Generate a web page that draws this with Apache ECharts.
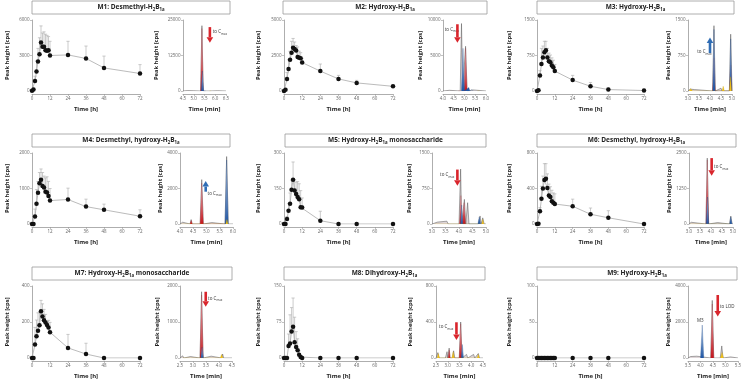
<!DOCTYPE html>
<html>
<head>
<meta charset="utf-8">
<script src="https://cdn.jsdelivr.net/npm/echarts@6/dist/echarts.min.js"></script>
<style>
  html, body { margin: 0; padding: 0; background: #fff; }
  #main { width: 741px; height: 381px; }
</style>
</head>
<body>
<div id="main"></div>
<script>
// sampling times [h]
var hours = [0, 1, 2, 3, 4, 5, 6, 7, 8, 9, 10, 11, 12, 24, 36, 48, 72];

// mean peak heights [cps] and upper SD per metabolite
var m1Mean = [20, 120, 850, 1650, 2500, 3100, 4100, 3750, 3750, 3450, 3400, 3450, 3000, 3050, 2750, 1950, 1480];
var m1Sd   = [0, 40, 400, 900, 1100, 1400, 1400, 1150, 1250, 1350, 1300, 1150, 1200, 1150, 1050, 1000, 750];
var m2Mean = [0, 90, 850, 1550, 2200, 2700, 3050, 2950, 2850, 2400, 2350, 2300, 2000, 1400, 850, 570, 330];
var m2Sd   = [0, 30, 450, 650, 600, 800, 650, 500, 350, 700, 450, 400, 300, 500, 250, 180, 0];
var m3Mean = [0, 15, 330, 570, 710, 820, 860, 710, 630, 610, 540, 500, 420, 230, 100, 30, 10];
var m3Sd   = [0, 10, 100, 330, 240, 230, 190, 190, 170, 150, 160, 150, 140, 100, 80, 30, 0];
var m4Mean = [0, 0, 210, 570, 880, 1150, 1250, 1070, 1030, 910, 890, 790, 660, 690, 490, 400, 220];
var m4Sd   = [0, 0, 210, 400, 320, 300, 300, 380, 320, 390, 440, 410, 340, 320, 210, 160, 180];
var m5Mean = [0, 0, 21, 56, 86, 145, 187, 142, 127, 114, 105, 71, 70, 14, 0, 0, 0];
var m5Sd   = [0, 0, 10, 30, 45, 40, 75, 45, 50, 65, 65, 70, 40, 40, 0, 0, 0];
var m6Mean = [0, 3, 145, 285, 400, 495, 510, 405, 320, 305, 255, 240, 225, 200, 110, 70, 0];
var m6Sd   = [0, 3, 40, 140, 140, 185, 170, 160, 130, 115, 125, 110, 115, 80, 70, 80, 0];
var m7Mean = [0, 0, 75, 121, 151, 182, 260, 231, 210, 197, 184, 169, 143, 56, 22, 0, 0];
var m7Sd   = [0, 0, 95, 90, 100, 70, 60, 70, 60, 45, 20, 40, 55, 75, 60, 0, 0];
var m8Mean = [0, 0, 0, 25, 30, 55, 65, 33, 23, 16, 7, 2, 0, 0, 0, 0, 0];
var m8Sd   = [0, 0, 0, 25, 60, 50, 60, 52, 32, 24, 8, 3, 0, 0, 0, 0, 0];
var m9Mean = [0, 0, 0, 0, 0, 0, 0, 0, 0, 0, 0, 0, 0, 0, 0, 0, 0];
var m9Sd   = [0, 0, 0, 0, 0, 0, 0, 0, 0, 0, 0, 0, 0, 0, 0, 0, 0];

// chromatogram traces [min, cps]
var m1Gray   = [[4.5,0],[4.7,150],[4.75,0],[5.0,100],[5.05,0],[5.32,0],[5.38,23000],[5.44,0],[5.75,0],[5.78,400],[5.82,0],[6.1,100],[6.15,0],[6.5,0]];
var m1Red    = [[5.32,0],[5.38,22000],[5.44,0]];
var m1Blue   = [[5.35,0],[5.4,7000],[5.46,0],[5.5,300],[5.55,0]];
var m1Yellow = [[5.73,0],[5.77,500],[5.81,0]];
var m2Gray   = [[4.0,0],[4.3,100],[4.35,0],[4.8,0],[4.86,9500],[4.92,0],[4.98,0],[5.05,6300],[5.12,0],[5.4,150],[5.45,0],[6.0,0]];
var m2Red    = [[4.7,0],[4.74,250],[4.78,0],[4.98,0],[5.05,6000],[5.12,0]];
var m2Blue   = [[4.86,0],[4.93,6000],[5.0,0],[5.2,500],[5.25,0],[5.35,200],[5.4,0]];
var m2Yellow = [[5.6,0],[5.65,100],[5.7,0]];
var m3Gray   = [[3.0,0],[3.1,40],[3.15,0],[3.3,30],[3.35,0],[3.6,20],[3.65,0],[4.12,0],[4.18,1380],[4.24,0],[4.5,60],[4.55,0],[4.88,0],[4.94,1200],[5.0,0]];
var m3Red    = [[4.12,0],[4.18,700],[4.24,0],[4.88,0],[4.94,550],[5.0,0]];
var m3Blue   = [[4.13,0],[4.18,1300],[4.23,0],[4.89,0],[4.94,1100],[4.99,0]];
var m3Yellow = [[3.05,0],[3.12,50],[3.2,0],[3.25,40],[3.3,0],[4.55,0],[4.6,100],[4.65,0],[4.88,0],[4.93,300],[4.98,0]];
var m4Gray   = [[4.0,0],[4.1,100],[4.15,0],[4.38,0],[4.42,250],[4.46,0],[4.76,0],[4.82,2500],[4.88,0],[5.2,80],[5.25,0],[5.7,0],[5.76,3800],[5.82,0],[6.0,0]];
var m4Red    = [[4.38,0],[4.42,200],[4.46,0],[4.76,0],[4.82,2300],[4.88,0],[5.72,0],[5.76,500],[5.8,0]];
var m4Blue   = [[5.7,0],[5.76,3600],[5.82,0]];
var m4Yellow = [[4.05,0],[4.1,80],[4.15,0],[5.73,0],[5.77,250],[5.81,0]];
var m5Gray   = [[3.0,0],[3.2,40],[3.25,0],[3.55,60],[3.6,0],[4.0,0],[4.06,1160],[4.1,0],[4.14,0],[4.2,520],[4.25,0],[4.28,0],[4.32,450],[4.37,0],[4.72,0],[4.78,170],[4.82,0],[4.84,0],[4.88,130],[4.93,0],[5.0,0]];
var m5Red    = [[4.02,0],[4.07,600],[4.12,0],[4.15,0],[4.19,450],[4.24,0]];
var m5Blue   = [[4.06,0],[4.1,400],[4.14,0],[4.7,0],[4.75,150],[4.8,0]];
var m5Yellow = [[3.1,0],[3.15,40],[3.2,0],[4.85,0],[4.88,100],[4.92,0]];
var m6Gray   = [[3.0,0],[3.1,60],[3.15,0],[3.77,0],[3.83,2320],[3.89,0],[4.3,50],[4.35,0],[4.84,0],[4.9,280],[4.96,0],[5.0,0]];
var m6Red    = [[3.77,0],[3.83,2250],[3.89,0]];
var m6Blue   = [[3.78,0],[3.84,950],[3.9,0],[4.85,0],[4.9,250],[4.95,0]];
var m6Yellow = [[3.05,0],[3.1,70],[3.15,0],[4.8,0],[4.86,60],[4.9,0]];
var m7Gray   = [[2.5,0],[2.6,60],[2.65,0],[2.9,40],[2.95,0],[3.27,0],[3.33,1840],[3.39,0],[3.7,50],[3.75,0],[4.1,0],[4.14,110],[4.18,0],[4.5,0]];
var m7Red    = [[3.27,0],[3.33,1750],[3.39,0]];
var m7Blue   = [[3.3,0],[3.35,300],[3.4,0]];
var m7Yellow = [[2.6,0],[2.65,50],[2.7,0],[4.05,0],[4.1,100],[4.15,0]];
var m8Gray   = [[2.5,0],[2.58,60],[2.63,0],[2.9,0],[2.97,70],[3.0,0],[3.02,0],[3.06,110],[3.1,0],[3.2,0],[3.25,80],[3.3,0],[3.49,0],[3.55,400],[3.61,0],[3.8,40],[3.85,0],[4.1,40],[4.15,0],[4.3,50],[4.35,0],[4.5,0]];
var m8Red    = [[3.02,0],[3.06,90],[3.1,0],[3.49,0],[3.55,380],[3.61,0]];
var m8Blue   = [[3.57,0],[3.62,150],[3.67,0]];
var m8Yellow = [[2.55,0],[2.6,50],[2.65,0],[3.18,0],[3.23,70],[3.28,0],[4.25,0],[4.3,40],[4.35,0]];
var m9Gray   = [[3.5,0],[3.6,80],[3.65,0],[3.85,100],[3.9,0],[4.41,0],[4.47,3200],[4.53,0],[4.79,0],[4.85,670],[4.9,0],[5.2,60],[5.25,0],[5.5,0]];
var m9Red    = [[4.41,0],[4.47,3000],[4.53,0]];
var m9Blue   = [[4.0,0],[4.07,1830],[4.13,0]];
var m9Yellow = [[4.8,0],[4.86,300],[4.92,0]];

// arrows [x, from, to] and notes [x, y, text]
var m1Arrow = [5.75, 22500, 17000], m1Notes = [[5.88, 20800, 'to C{s|max}']];
var m2Arrow = [4.67, 9400, 6800],   m2Notes = [[4.08, 8700, 'to C{s|max}']];
var m3Arrow = [4.0, 800, 1130],     m3Notes = [[3.42, 830, 'to C{s|max}']];
var m4Arrow = [4.97, 1820, 2420],   m4Notes = [[5.04, 1730, 'to C{s|max}']];
var m5Arrow = [3.94, 1150, 810],    m5Notes = [[3.3, 1040, 'to C{s|max}']];
var m6Arrow = [4.03, 2320, 1700],   m6Notes = [[4.14, 2010, 'to C{s|max}']];
var m7Arrow = [3.49, 1840, 1425],   m7Notes = [[3.58, 1660, 'to C{s|max}']];
var m8Arrow = [3.37, 397, 200],     m8Notes = [[2.63, 348, 'to C{s|max}']];
var m9Arrow = [4.69, 3500, 2300],   m9Notes = [[4.78, 2850, 'to LOD'], [3.86, 2070, 'M3']];

var FONT = '"Open Sans", "DejaVu Sans", sans-serif';
var RED = '#d9252c', BLUE = '#2f6db5';

var rowTop = [20, 153, 286];
var rowHeight = [71, 71, 72];
var lineCols = [{left: 32, width: 108, gap: 21.5}, {left: 284, width: 109, gap: 23}, {left: 537, width: 107, gap: 24.5}];

var panels = [
  {title: 'M1: Desmethyl-H{s|2}B{s|1a}', box: [32, 1, 198, 13], yMax: 6000, mean: m1Mean, sd: m1Sd,
   chrom: {left: 183, width: 43, xMin: 4.5, xMax: 6.5, yMax: 25000, gap: 23.5},
   traces: [m1Gray, m1Red, m1Blue, m1Yellow], arrow: m1Arrow, arrowColor: RED, notes: m1Notes},
  {title: 'M2: Hydroxy-H{s|2}B{s|1a}', box: [283, 1, 204, 13], yMax: 5000, mean: m2Mean, sd: m2Sd,
   chrom: {left: 443, width: 43, xMin: 4.0, xMax: 6.0, yMax: 10000, gap: 15},
   traces: [m2Gray, m2Red, m2Blue, m2Yellow], arrow: m2Arrow, arrowColor: RED, notes: m2Notes},
  {title: 'M3: Hydroxy-H{s|2}B{s|1a}', box: [537, 1, 197, 13], yMax: 1500, mean: m3Mean, sd: m3Sd,
   chrom: {left: 688, width: 44, xMin: 3.0, xMax: 5.0, yMax: 1500, gap: 12},
   traces: [m3Gray, m3Red, m3Blue, m3Yellow], arrow: m3Arrow, arrowColor: BLUE, notes: m3Notes},
  {title: 'M4: Desmethyl, hydroxy-H{s|2}B{s|1a}', box: [32, 134, 198, 13], yMax: 2000, mean: m4Mean, sd: m4Sd,
   chrom: {left: 180, width: 53, xMin: 4.0, xMax: 6.0, yMax: 4000, gap: 10},
   traces: [m4Gray, m4Red, m4Blue, m4Yellow], arrow: m4Arrow, arrowColor: BLUE, notes: m4Notes},
  {title: 'M5: Hydroxy-H{s|2}B{s|1a} monosaccharide', box: [285, 134, 201, 13], yMax: 300, mean: m5Mean, sd: m5Sd,
   chrom: {left: 432, width: 54, xMin: 3.0, xMax: 5.0, yMax: 1500, gap: 20},
   traces: [m5Gray, m5Red, m5Blue, m5Yellow], arrow: m5Arrow, arrowColor: RED, notes: m5Notes},
  {title: 'M6: Desmethyl, hydroxy-H{s|2}B{s|1a}', box: [537, 134, 199, 13], yMax: 800, mean: m6Mean, sd: m6Sd,
   chrom: {left: 689, width: 44, xMin: 3.0, xMax: 5.0, yMax: 2500, gap: 11},
   traces: [m6Gray, m6Red, m6Blue, m6Yellow], arrow: m6Arrow, arrowColor: RED, notes: m6Notes},
  {title: 'M7: Hydroxy-H{s|2}B{s|1a} monosaccharide', box: [32, 267, 200, 13], yMax: 400, mean: m7Mean, sd: m7Sd,
   chrom: {left: 180, width: 52, xMin: 2.5, xMax: 4.5, yMax: 2000, gap: 20},
   traces: [m7Gray, m7Red, m7Blue, m7Yellow], arrow: m7Arrow, arrowColor: RED, notes: m7Notes},
  {title: 'M8: Dihydroxy-H{s|2}B{s|1a}', box: [284, 267, 201, 13], yMax: 150, mean: m8Mean, sd: m8Sd,
   chrom: {left: 436, width: 47, xMin: 2.5, xMax: 4.5, yMax: 800, gap: 23},
   traces: [m8Gray, m8Red, m8Blue, m8Yellow], arrow: m8Arrow, arrowColor: RED, notes: m8Notes},
  {title: 'M9: Hydroxy-H{s|2}B{s|1a}', box: [537, 267, 200, 13], yMax: 100, mean: m9Mean, sd: m9Sd,
   chrom: {left: 688, width: 50, xMin: 3.5, xMax: 5.5, yMax: 4000, gap: 10},
   traces: [m9Gray, m9Red, m9Blue, m9Yellow], arrow: m9Arrow, arrowColor: RED, notes: m9Notes}
];

var subRich = {
  s: {fontSize: 4.3, fontWeight: 'bold', fontFamily: FONT, color: '#222', verticalAlign: 'bottom', lineHeight: 8.5}
};

function axisX(idx, min, max, step, name, fmt) {
  return {
    type: 'value', gridIndex: idx, min: min, max: max, interval: step, offset: 3,
    axisLine: {show: true, onZero: false, lineStyle: {color: '#999', width: 0.8}},
    axisTick: {show: true, length: 2, lineStyle: {color: '#999', width: 0.6}},
    axisLabel: {fontSize: 4.5, color: '#666', margin: 2.5, fontFamily: FONT,
      formatter: fmt || function (v) { return String(v); }},
    splitLine: {show: false},
    name: name, nameLocation: 'middle', nameGap: 12,
    nameTextStyle: {fontSize: 6, fontWeight: 'bold', color: '#222', fontFamily: FONT}
  };
}

function axisY(idx, max, gap) {
  return {
    type: 'value', gridIndex: idx, min: 0, max: max, interval: max / 2,
    axisLine: {show: true, lineStyle: {color: '#999', width: 0.8}},
    axisTick: {show: true, length: 2, lineStyle: {color: '#999', width: 0.6}},
    axisLabel: {fontSize: 4.5, color: '#666', margin: 2.5, fontFamily: FONT,
      formatter: function (v) { return String(v); }},
    splitLine: {show: false},
    name: 'Peak height [cps]', nameLocation: 'middle', nameGap: gap,
    nameTextStyle: {fontSize: 5.8, fontWeight: 'bold', color: '#222', fontFamily: FONT}
  };
}

function renderErr(params, api) {
  var x = api.value(0), m = api.value(1), s = api.value(2);
  if (!s) return null;
  var p0 = api.coord([x, m]);
  var p1 = api.coord([x, m + s]);
  var st = {stroke: '#b5b5b5', lineWidth: 0.7};
  return {
    type: 'group',
    children: [
      {type: 'line', shape: {x1: p0[0], y1: p0[1], x2: p1[0], y2: p1[1]}, style: st},
      {type: 'line', shape: {x1: p1[0] - 1.6, y1: p1[1], x2: p1[0] + 1.6, y2: p1[1]}, style: st}
    ]
  };
}

// thick vertical arrow from value[1] to value[2] at x = value[0]
function renderArrow(params, api) {
  var a = api.coord([api.value(0), api.value(1)]);
  var b = api.coord([api.value(0), api.value(2)]);
  var dir = b[1] > a[1] ? 1 : -1;
  var head = 5.5;
  var hy = b[1] - dir * head;
  var color = api.visual('color');
  return {
    type: 'group',
    children: [
      {type: 'rect', shape: {x: a[0] - 1.3, y: Math.min(a[1], hy), width: 2.6, height: Math.abs(hy - a[1])}, style: {fill: color}},
      {type: 'polygon', shape: {points: [[b[0] - 3.3, hy], [b[0] + 3.3, hy], [b[0], b[1]]]}, style: {fill: color}}
    ]
  };
}

function grad(top, bottom) {
  return new echarts.graphic.LinearGradient(0, 0, 0, 1, [{offset: 0, color: top}, {offset: 1, color: bottom}]);
}

var traceStyles = [
  {line: '#555', width: 0.5, area: 'rgba(200,185,190,0.6)'},
  {line: 'rgba(170,20,30,0.7)', width: 0.3, area: grad('rgba(240,190,195,0.9)', '#c4161c')},
  {line: '#1f4a8a', width: 0.3, area: grad('rgba(185,205,232,0.9)', '#1f56a5')},
  {line: '#c9a000', width: 0.3, area: '#f2c21b'}
];

var grid = [], xAxis = [], yAxis = [], series = [], graphic = [];

panels.forEach(function (p, i) {
  var row = Math.floor(i / 3), col = i % 3;
  var top = rowTop[row], h = rowHeight[row], lc = lineCols[col];
  var gl = 2 * i, gc = 2 * i + 1;

  grid.push({left: lc.left, top: top, width: lc.width, height: h, outerBoundsMode: 'none'});
  grid.push({left: p.chrom.left, top: top, width: p.chrom.width, height: h, outerBoundsMode: 'none'});

  xAxis.push(axisX(gl, 0, 72, 12, 'Time [h]'));
  xAxis.push(axisX(gc, p.chrom.xMin, p.chrom.xMax, 0.5, 'Time [min]', function (v) { return v.toFixed(1); }));
  yAxis.push(axisY(gl, p.yMax, lc.gap));
  yAxis.push(axisY(gc, p.chrom.yMax, p.chrom.gap));

  // time course: error bars + mean line
  series.push({
    type: 'custom', xAxisIndex: gl, yAxisIndex: gl, z: 2,
    renderItem: renderErr, encode: {x: 0, y: 1},
    data: hours.map(function (t, k) { return [t, p.mean[k], p.sd[k]]; })
  });
  series.push({
    type: 'line', xAxisIndex: gl, yAxisIndex: gl, z: 3,
    symbol: 'circle', symbolSize: 4.5, showAllSymbol: true,
    itemStyle: {color: '#111'},
    lineStyle: {color: '#aaa', width: 0.8},
    data: hours.map(function (t, k) { return [t, p.mean[k]]; })
  });

  // chromatogram traces
  p.traces.forEach(function (tr, k) {
    var ts = traceStyles[k];
    var s = {
      type: 'line', xAxisIndex: gc, yAxisIndex: gc, z: 2 + k,
      showSymbol: false, symbol: 'none',
      lineStyle: {color: ts.line, width: ts.width},
      areaStyle: {color: ts.area, opacity: 1},
      data: tr
    };
    if (k === 3) {
      s.markPoint = {
        silent: true, symbol: 'circle', symbolSize: 0,
        data: p.notes.map(function (n) {
          return {
            coord: [n[0], n[1]],
            label: {
              show: true, position: 'right', distance: 0, formatter: n[2],
              fontSize: 4.5, color: '#333', fontFamily: FONT, lineHeight: 7,
              rich: {s: {fontSize: 3, color: '#333', fontFamily: FONT, verticalAlign: 'bottom', lineHeight: 7}}
            }
          };
        })
      };
    }
    series.push(s);
  });

  series.push({
    type: 'custom', xAxisIndex: gc, yAxisIndex: gc, z: 8,
    renderItem: renderArrow, encode: {x: 0, y: [1, 2]},
    itemStyle: {color: p.arrowColor},
    data: [p.arrow]
  });

  // title box
  graphic.push({
    type: 'rect', silent: true,
    shape: {x: p.box[0], y: p.box[1], width: p.box[2], height: p.box[3]},
    style: {fill: '#fff', stroke: '#9a9a9a', lineWidth: 0.8}
  });
  graphic.push({
    type: 'text', silent: true,
    x: p.box[0] + p.box[2] / 2, y: p.box[1] + p.box[3] / 2,
    style: {
      text: p.title, align: 'center', verticalAlign: 'middle',
      fontSize: 6.5, fontWeight: 'bold', fontFamily: FONT, fill: '#222', lineHeight: 8.5,
      rich: subRich
    }
  });
});

var chart = echarts.init(document.getElementById('main'));
chart.setOption({
  animation: false,
  backgroundColor: '#fff',
  grid: grid,
  xAxis: xAxis,
  yAxis: yAxis,
  series: series,
  graphic: graphic
});
</script>
</body>
</html>
